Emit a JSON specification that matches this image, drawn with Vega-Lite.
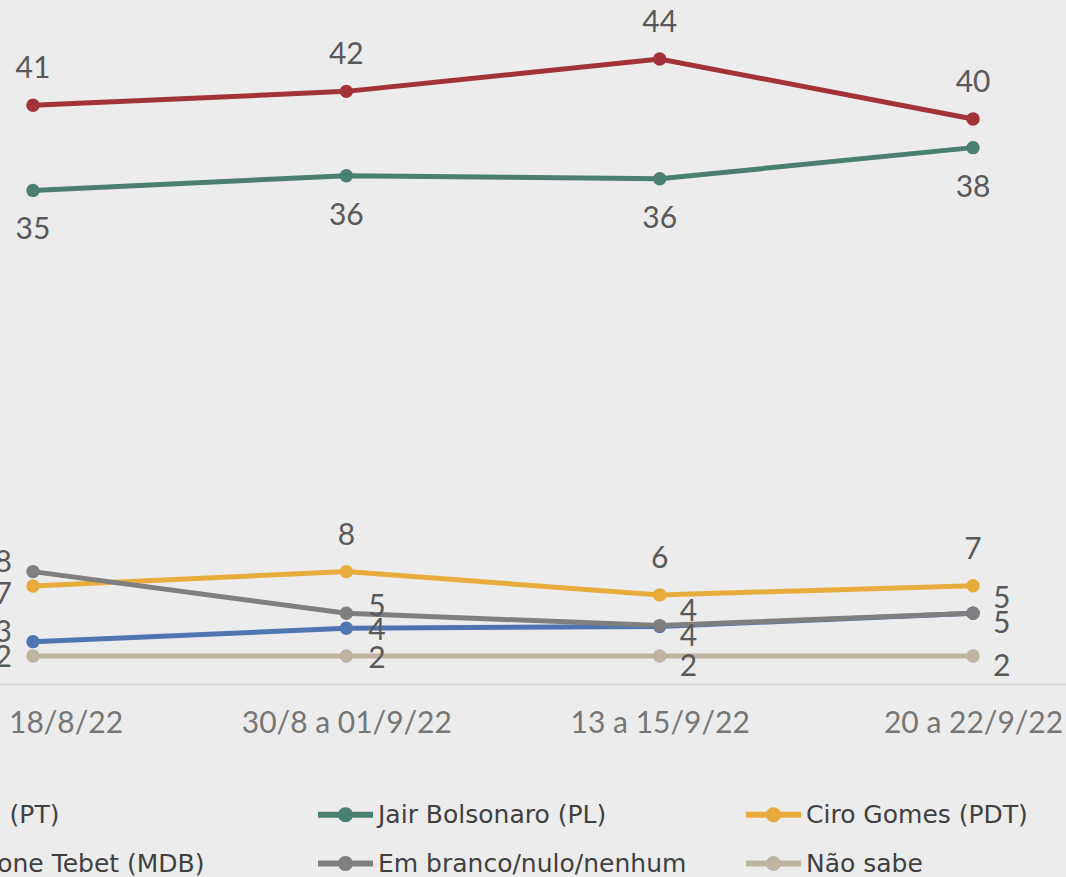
{
  "$schema": "https://vega.github.io/schema/vega-lite/v6.json",
  "width": 1066,
  "height": 682,
  "autosize": {"type": "none"},
  "padding": {"left": 0, "top": 2, "right": 0, "bottom": 193},
  "background": "#ECECEC",
  "config": {"view": {"stroke": null}, "font": "Lato"},
  "data": {
    "values": [
      {"periodo": "16 a 18/8/22", "serie": "Lula (PT)", "valor": 40.73},
      {"periodo": "30/8 a 01/9/22", "serie": "Lula (PT)", "valor": 41.71},
      {"periodo": "13 a 15/9/22", "serie": "Lula (PT)", "valor": 43.99},
      {"periodo": "20 a 22/9/22", "serie": "Lula (PT)", "valor": 39.77},
      {"periodo": "16 a 18/8/22", "serie": "Jair Bolsonaro (PL)", "valor": 34.74},
      {"periodo": "30/8 a 01/9/22", "serie": "Jair Bolsonaro (PL)", "valor": 35.77},
      {"periodo": "13 a 15/9/22", "serie": "Jair Bolsonaro (PL)", "valor": 35.56},
      {"periodo": "20 a 22/9/22", "serie": "Jair Bolsonaro (PL)", "valor": 37.75},
      {"periodo": "16 a 18/8/22", "serie": "Ciro Gomes (PDT)", "valor": 6.9},
      {"periodo": "30/8 a 01/9/22", "serie": "Ciro Gomes (PDT)", "valor": 7.91},
      {"periodo": "13 a 15/9/22", "serie": "Ciro Gomes (PDT)", "valor": 6.27},
      {"periodo": "20 a 22/9/22", "serie": "Ciro Gomes (PDT)", "valor": 6.92},
      {"periodo": "16 a 18/8/22", "serie": "Simone Tebet (MDB)", "valor": 2.98},
      {"periodo": "30/8 a 01/9/22", "serie": "Simone Tebet (MDB)", "valor": 3.92},
      {"periodo": "13 a 15/9/22", "serie": "Simone Tebet (MDB)", "valor": 4.05},
      {"periodo": "20 a 22/9/22", "serie": "Simone Tebet (MDB)", "valor": 4.98},
      {"periodo": "16 a 18/8/22", "serie": "Em branco/nulo/nenhum", "valor": 7.91},
      {"periodo": "30/8 a 01/9/22", "serie": "Em branco/nulo/nenhum", "valor": 4.98},
      {"periodo": "13 a 15/9/22", "serie": "Em branco/nulo/nenhum", "valor": 4.11},
      {"periodo": "20 a 22/9/22", "serie": "Em branco/nulo/nenhum", "valor": 4.98},
      {"periodo": "16 a 18/8/22", "serie": "Não sabe", "valor": 1.97},
      {"periodo": "30/8 a 01/9/22", "serie": "Não sabe", "valor": 1.97},
      {"periodo": "13 a 15/9/22", "serie": "Não sabe", "valor": 1.97},
      {"periodo": "20 a 22/9/22", "serie": "Não sabe", "valor": 1.97}
    ]
  },
  "encoding": {
    "x": {
      "field": "periodo",
      "type": "ordinal",
      "sort": ["16 a 18/8/22", "30/8 a 01/9/22", "13 a 15/9/22", "20 a 22/9/22"],
      "scale": {"type": "point", "padding": 0.201, "align": 0.262},
      "axis": {
        "title": null,
        "labelAngle": 0,
        "ticks": false,
        "grid": false,
        "domainColor": "#D9D9D9",
        "domainWidth": 2,
        "labelFont": "Lato",
        "labelFontSize": 30,
        "labelColor": "#767676",
        "labelPadding": 24,
        "labelLimit": 400,
        "labelOverlap": false
      }
    },
    "y": {
      "field": "valor",
      "type": "quantitative",
      "scale": {"domain": [0, 48]},
      "axis": null
    }
  },
  "layer": [
    {
      "mark": {"type": "line", "strokeWidth": 5},
      "encoding": {
        "color": {
          "field": "serie",
          "type": "nominal",
          "scale": {
            "domain": ["Lula (PT)", "Jair Bolsonaro (PL)", "Ciro Gomes (PDT)", "Simone Tebet (MDB)", "Em branco/nulo/nenhum", "Não sabe"],
            "range": ["#A33338", "#4B7F71", "#E8AC3C", "#5075B3", "#7F7F7F", "#BDB5A2"]
          },
          "legend": {
            "orient": "none",
            "legendX": -95,
            "legendY": 800,
            "direction": "horizontal",
            "columns": 3,
            "title": null,
            "padding": 0,
            "gridAlign": "all",
            "symbolType": "M-3.667,-0.4H3.667V0.4H-3.667Z M1,0 A1,1 0 1,1 -1,0 A1,1 0 1,1 1,0Z",
            "symbolSize": 225,
            "symbolStrokeWidth": 0,
            "labelFont": "DejaVu Sans",
            "labelFontSize": 25,
            "labelColor": "#404040",
            "labelOffset": 20,
            "labelLimit": 0,
            "columnPadding": 58,
            "rowPadding": 23
          }
        }
      }
    },
    {
      "mark": {"type": "circle", "size": 180, "opacity": 1},
      "encoding": {
        "color": {"field": "serie", "type": "nominal"}
      }
    },
    {
      "transform": [{"filter": "datum.serie === 'Lula (PT)' || (datum.serie === 'Ciro Gomes (PDT)' && datum.periodo !== '16 a 18/8/22')"}],
      "mark": {"type": "text", "fontSize": 30, "font": "Lato", "baseline": "middle", "align": "center", "dy": -36, "color": "#595959"},
      "encoding": {"text": {"field": "valor", "type": "quantitative", "format": ".0f"}}
    },
    {
      "transform": [{"filter": "datum.serie === 'Jair Bolsonaro (PL)'"}],
      "mark": {"type": "text", "fontSize": 30, "font": "Lato", "baseline": "middle", "align": "center", "dy": 40, "color": "#595959"},
      "encoding": {"text": {"field": "valor", "type": "quantitative", "format": ".0f"}}
    },
    {
      "transform": [{"filter": "datum.serie === 'Ciro Gomes (PDT)' && datum.periodo === '16 a 18/8/22'"}],
      "mark": {"type": "text", "fontSize": 30, "font": "Lato", "baseline": "middle", "align": "right", "dx": -21, "dy": 9, "color": "#595959"},
      "encoding": {"text": {"field": "valor", "type": "quantitative", "format": ".0f"}}
    },
    {
      "transform": [{"filter": "(datum.serie === 'Em branco/nulo/nenhum' || datum.serie === 'Simone Tebet (MDB)') && datum.periodo === '16 a 18/8/22'"}],
      "mark": {"type": "text", "fontSize": 30, "font": "Lato", "baseline": "middle", "align": "right", "dx": -21, "dy": -9, "color": "#595959"},
      "encoding": {"text": {"field": "valor", "type": "quantitative", "format": ".0f"}}
    },
    {
      "transform": [{"filter": "datum.serie === 'Não sabe' && datum.periodo === '16 a 18/8/22'"}],
      "mark": {"type": "text", "fontSize": 30, "font": "Lato", "baseline": "middle", "align": "right", "dx": -21, "dy": 2, "color": "#595959"},
      "encoding": {"text": {"field": "valor", "type": "quantitative", "format": ".0f"}}
    },
    {
      "transform": [{"filter": "datum.serie === 'Em branco/nulo/nenhum' && datum.periodo === '30/8 a 01/9/22'"}],
      "mark": {"type": "text", "fontSize": 30, "font": "Lato", "baseline": "middle", "align": "left", "dx": 22, "dy": -6, "color": "#595959"},
      "encoding": {"text": {"field": "valor", "type": "quantitative", "format": ".0f"}}
    },
    {
      "transform": [{"filter": "(datum.serie === 'Simone Tebet (MDB)' || datum.serie === 'Não sabe') && datum.periodo === '30/8 a 01/9/22'"}],
      "mark": {"type": "text", "fontSize": 30, "font": "Lato", "baseline": "middle", "align": "left", "dx": 22, "dy": 3, "color": "#595959"},
      "encoding": {"text": {"field": "valor", "type": "quantitative", "format": ".0f"}}
    },
    {
      "transform": [{"filter": "datum.serie === 'Em branco/nulo/nenhum' && (datum.periodo === '13 a 15/9/22' || datum.periodo === '20 a 22/9/22')"}],
      "mark": {"type": "text", "fontSize": 30, "font": "Lato", "baseline": "middle", "align": "left", "dx": 20, "dy": -14, "color": "#595959"},
      "encoding": {"text": {"field": "valor", "type": "quantitative", "format": ".0f"}}
    },
    {
      "transform": [{"filter": "(datum.serie === 'Simone Tebet (MDB)' || datum.serie === 'Não sabe') && (datum.periodo === '13 a 15/9/22' || datum.periodo === '20 a 22/9/22')"}],
      "mark": {"type": "text", "fontSize": 30, "font": "Lato", "baseline": "middle", "align": "left", "dx": 20, "dy": 11, "color": "#595959"},
      "encoding": {"text": {"field": "valor", "type": "quantitative", "format": ".0f"}}
    }
  ]
}
